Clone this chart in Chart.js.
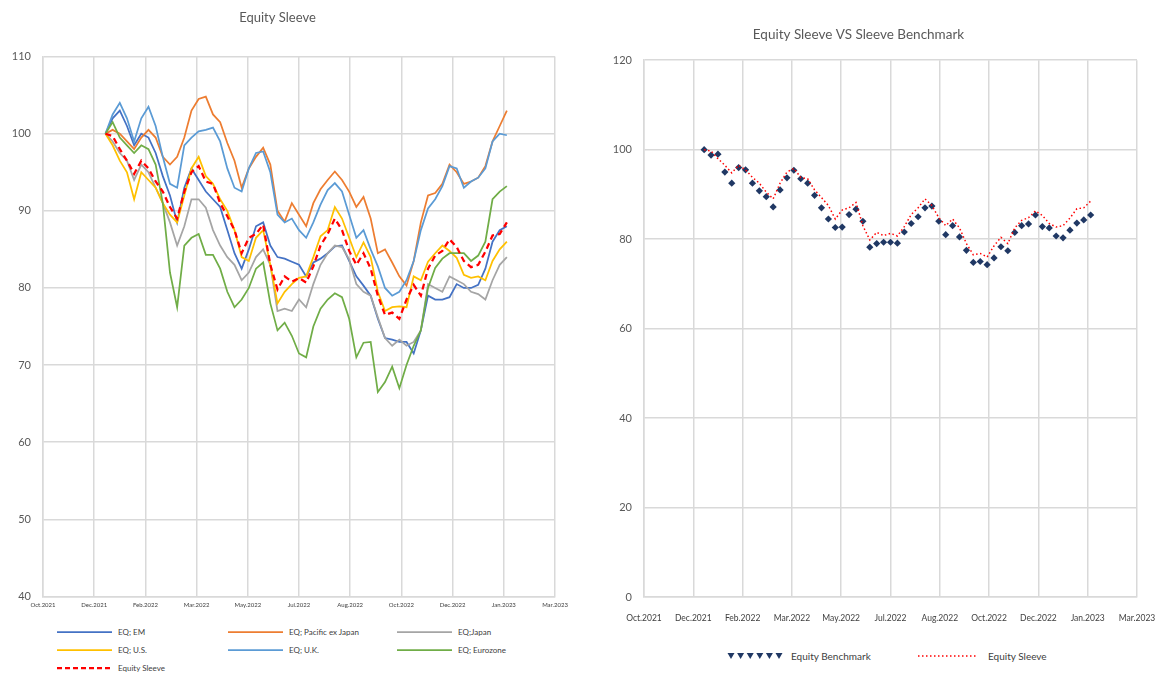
<!DOCTYPE html>
<html>
<head>
<meta charset="utf-8">
<title>Equity Sleeve</title>
<script src="https://cdn.jsdelivr.net/npm/chart.js@4.4.0/dist/chart.umd.min.js"></script>
<style>
  body { margin: 0; background: #fff; font-family: Lato, "Open Sans", sans-serif; }
  #page { position: relative; width: 1162px; height: 675px; overflow: hidden; }
  #leftBox { position: absolute; left: 0; top: 0; width: 580px; height: 615px; }
  #rightBox { position: absolute; left: 580px; top: 0; width: 582px; height: 630px; }
  .lg { position: absolute; display: flex; align-items: center; color: #404040; white-space: nowrap; }
  .lg svg { display: block; }
  .lg span { margin-left: 6px; }
</style>
</head>
<body>
<div id="page">
  <div id="leftBox"><canvas id="chartSleeve"></canvas></div>
  <div id="rightBox"><canvas id="chartBench"></canvas></div>
  <div id="legendLeft"></div>
  <div id="legendRight"></div>
</div>
<script>
// x axis: Excel style date axis, one gridline every 50 days from 31 Oct 2021
const axisStart = '2021-10-31';
const tickDays = 50;
const xTickLabels = ['Oct.2021', 'Dec.2021', 'Feb.2022', 'Mar.2022', 'May.2022', 'Jul.2022',
  'Aug.2022', 'Oct.2022', 'Dec.2022', 'Jan.2023', 'Mar.2023'];

// weekly observations
const dates = ['2021-12-31',
  '2022-01-07', '2022-01-14', '2022-01-21', '2022-01-28',
  '2022-02-04', '2022-02-11', '2022-02-18', '2022-02-25',
  '2022-03-04', '2022-03-11', '2022-03-18', '2022-03-25',
  '2022-04-01', '2022-04-08', '2022-04-15', '2022-04-22', '2022-04-29',
  '2022-05-06', '2022-05-13', '2022-05-20', '2022-05-27',
  '2022-06-03', '2022-06-10', '2022-06-17', '2022-06-24',
  '2022-07-01', '2022-07-08', '2022-07-15', '2022-07-22', '2022-07-29',
  '2022-08-05', '2022-08-12', '2022-08-19', '2022-08-26',
  '2022-09-02', '2022-09-09', '2022-09-16', '2022-09-23', '2022-09-30',
  '2022-10-07', '2022-10-14', '2022-10-21', '2022-10-28',
  '2022-11-04', '2022-11-11', '2022-11-18', '2022-11-25',
  '2022-12-02', '2022-12-09', '2022-12-16', '2022-12-23', '2022-12-30',
  '2023-01-06', '2023-01-13', '2023-01-20', '2023-01-27'];

const eqEM = [100, 102, 103, 101, 98.5, 100, 99.5, 97.5, 94.5, 92,
  88.5, 93, 95.5, 94, 92.5, 91.5, 90.5, 87.5, 84.5, 82.5,
  85, 88, 88.5, 85.5, 84, 83.8, 83.4, 83, 81.5, 83.3,
  83.8, 84.5, 85.4, 85.5, 83.5, 81.5, 80.3, 79, 76, 73.5,
  73.3, 73, 73, 71.5, 74.5, 79, 78.5, 78.5, 78.8, 80.5,
  80, 80, 80.4, 82.5, 86, 87.5, 88];
const eqPacific = [100, 100.5, 100, 99, 98, 99.5, 100.5, 99.5, 97, 96,
  97, 99.5, 103, 104.5, 104.8, 102.5, 101.5, 98.8, 96.5, 93,
  95.5, 97, 98.2, 96, 90, 88.6, 91, 89.5, 88, 91,
  92.8, 94, 95.1, 94, 92.5, 90.5, 91.8, 89, 84.5, 85,
  83.3, 81.5, 80.3, 83.5, 88.5, 92, 92.3, 93.5, 96, 95,
  93.5, 93.8, 94.3, 95.8, 99, 101, 103];
const eqJapan = [100, 99, 97.5, 96.5, 94, 96, 95, 93, 91, 88.5,
  85.5, 88, 91.5, 91.5, 90.4, 87.5, 85.5, 84, 83, 81,
  82, 84, 85, 83, 77, 77.3, 77, 78.5, 77.5, 80.5,
  83, 84.5, 85.5, 85.3, 83.7, 80.5, 79.5, 79, 76.2, 73.5,
  72.5, 73.3, 72.5, 73, 74.5, 80.5, 80, 79.5, 81.5, 81,
  80.5, 79.5, 79.2, 78.5, 81, 83, 84];
const eqUS = [100, 98.5, 96.5, 95, 91.5, 95, 94, 93, 91, 89.5,
  88.5, 92, 95.5, 97, 94.5, 93.5, 91.5, 90, 87.5, 84,
  83.5, 86.5, 87.5, 83, 78, 79.5, 80.5, 81.3, 81.5, 84,
  86.7, 87.5, 90.5, 89, 86.5, 84, 85.9, 84, 79.5, 77,
  77.5, 77.6, 77.5, 81.5, 81, 83.4, 84.5, 85.5, 84.8, 83.9,
  81.7, 81.3, 81.5, 81, 83.5, 85, 86];
const eqUK = [100, 102.5, 104, 102, 99, 102, 103.5, 101, 97, 93.5,
  93, 98.5, 99.5, 100.3, 100.5, 100.8, 99, 95.5, 93, 92.5,
  95.5, 97.5, 97.7, 95, 89.5, 88.5, 89, 87.5, 86.5, 88.5,
  90.8, 92.7, 93.6, 92.5, 89.5, 86.5, 87.5, 85, 82.8, 80,
  79, 79.5, 81, 83.5, 87.5, 90.3, 91.5, 93.2, 95.8, 95.5,
  93, 93.8, 94.3, 95.5, 99, 100, 99.8];
const eqEurozone = [100, 101.5, 99.5, 98.5, 97.5, 98.5, 98, 96, 91, 82,
  77.5, 85.5, 86.5, 87, 84.3, 84.3, 82.5, 79.5, 77.5, 78.5,
  80, 82.5, 83.3, 78, 74.5, 75.5, 73.8, 71.5, 71, 75,
  77.3, 78.5, 79.3, 78.8, 76, 71, 72.9, 73, 66.5, 67.8,
  69.8, 67, 70, 72.5, 74.5, 80, 82.6, 83.8, 84.5, 84.5,
  84.5, 83.5, 84.2, 86, 91.5, 92.5, 93.2];
const equitySleeve = [100, 99.7, 98, 96.5, 94.8, 96.5, 95.5, 93.8, 92.5, 90.5,
  89, 92.5, 95, 95.8, 93.8, 93.5, 91, 89.3, 87.5, 84.5,
  86.5, 87, 88.2, 83, 79.8, 81.5, 80.8, 81.3, 80.7, 82.8,
  85.5, 87, 89, 87.5, 84.8, 83, 84.5, 82.5, 79, 76.5,
  76.8, 76, 78.5, 80.4, 79, 82.5, 84.2, 84.8, 86.3, 85.3,
  83.5, 82.7, 83, 84.7, 86.8, 87, 88.5];
const equityBenchmark = [100, 98.8, 99, 95, 92.5, 96, 95.5, 92.5, 90.8, 89.5,
  87.2, 91, 93.7, 95.4, 93.5, 92.5, 89.8, 87, 84.5, 82.6,
  82.7, 85.5, 86.7, 84, 78.2, 79, 79.3, 79.3, 79.1, 81.6,
  83.5, 85, 87, 87.4, 84, 81, 83, 80.5, 77.5, 74.8,
  75, 74.3, 75.8, 78.3, 77.4, 81.5, 83, 83.4, 85.4, 82.8,
  82.5, 80.7, 80.3, 82, 83.6, 84.3, 85.4];

const leftSeries = [
  { name: 'EQ; EM', data: eqEM, color: '#4472c4' },
  { name: 'EQ; Pacific ex Japan', data: eqPacific, color: '#ed7d31' },
  { name: 'EQ;Japan', data: eqJapan, color: '#a5a5a5' },
  { name: 'EQ; U.S.', data: eqUS, color: '#ffc000' },
  { name: 'EQ; U.K.', data: eqUK, color: '#5b9bd5' },
  { name: 'EQ; Eurozone', data: eqEurozone, color: '#70ad47' },
  { name: 'Equity Sleeve', data: equitySleeve, color: '#ff0000', dash: [6, 4] }
];

const fontFamily = 'Lato, "Open Sans", sans-serif';
const gridColor = '#d9d9d9';

function dayOf(d) {
  return Math.round((Date.parse(d) - Date.parse(axisStart)) / 86400000);
}
const xs = dates.map(dayOf);

function toPoints(vals) {
  return vals.map(function (v, i) { return { x: xs[i], y: v }; });
}

function xAxis(fontSize, pad, height) {
  return {
    type: 'linear',
    min: 0,
    max: tickDays * (xTickLabels.length - 1),
    ticks: {
      stepSize: tickDays,
      autoSkip: false,
      maxRotation: 0,
      padding: pad,
      color: '#404040',
      font: { family: fontFamily, size: fontSize },
      callback: function (v) { return xTickLabels[Math.round(v / tickDays)]; }
    },
    grid: { color: gridColor, lineWidth: 1.5, drawTicks: false },
    border: { color: gridColor, width: 1.5 },
    // fixed height, and the end labels may hang into the canvas margin
    afterFit: function (s) { s.height = height; s.paddingLeft = 0; s.paddingRight = 0; }
  };
}

function yAxis(min, max, step, width) {
  return {
    min: min,
    max: max,
    ticks: {
      stepSize: step,
      padding: 12,
      color: '#595959',
      font: { family: fontFamily, size: 11 }
    },
    grid: { color: gridColor, lineWidth: 1.5, drawTicks: false },
    border: { color: gridColor, width: 1.5 },
    afterFit: function (s) { s.width = width; }
  };
}

const leftChart = new Chart(document.getElementById('chartSleeve'), {
  type: 'line',
  data: {
    datasets: leftSeries.map(function (s, i) {
      return {
        label: s.name,
        data: toPoints(s.data),
        borderColor: s.color,
        backgroundColor: s.color,
        borderWidth: s.dash ? 2.25 : 1.75,
        borderDash: s.dash || [],
        pointRadius: 0,
        order: s.dash ? 0 : leftSeries.length - i
      };
    })
  },
  options: {
    animation: false,
    responsive: true,
    maintainAspectRatio: false,
    layout: { padding: { left: 0, right: 25, top: 0, bottom: 0 } },
    plugins: {
      legend: { display: false },
      tooltip: { enabled: false },
      title: {
        display: true,
        text: 'Equity Sleeve',
        color: '#595959',
        font: { family: fontFamily, size: 13, weight: 'normal' },
        padding: { top: 10, bottom: 31 }
      }
    },
    scales: {
      x: xAxis(6, 5, 18),
      y: yAxis(40, 110, 10, 43)
    }
  }
});

const rightChart = new Chart(document.getElementById('chartBench'), {
  type: 'line',
  data: {
    datasets: [{
      label: 'Equity Benchmark',
      data: toPoints(equityBenchmark),
      showLine: false,
      pointStyle: 'rectRot',
      pointRadius: 3.6,
      pointBorderWidth: 0,
      pointBackgroundColor: '#203864',
      borderColor: '#203864',
      order: 1
    }, {
      label: 'Equity Sleeve',
      data: toPoints(equitySleeve),
      borderColor: '#ff0000',
      borderWidth: 1.5,
      borderDash: [1.5, 2.5],
      pointRadius: 0,
      order: 0
    }]
  },
  options: {
    animation: false,
    responsive: true,
    maintainAspectRatio: false,
    layout: { padding: { left: 0, right: 25, top: 0, bottom: 0 } },
    plugins: {
      legend: { display: false },
      tooltip: { enabled: false },
      title: {
        display: true,
        text: 'Equity Sleeve VS Sleeve Benchmark',
        color: '#595959',
        font: { family: fontFamily, size: 13.5, weight: 'normal' },
        padding: { top: 27, bottom: 17 }
      }
    },
    scales: {
      x: xAxis(8.5, 16, 33),
      y: yAxis(0, 120, 20, 64)
    }
  }
});

// html legends, built from the datasets
function lineSample(color, dash, width, w) {
  return '<svg width="' + w + '" height="8"><line x1="0" y1="4" x2="' + w + '" y2="4" stroke="' + color +
    '" stroke-width="' + width + '"' + (dash ? ' stroke-dasharray="' + dash.join(' ') + '"' : '') + '/></svg>';
}

function markerSample(color, n, w) {
  var s = '<svg width="' + w + '" height="8">';
  for (var k = 0; k < n; k++) {
    var cx = 4 + k * (w - 8) / (n - 1);
    s += '<polygon points="' + (cx - 3.5) + ',1 ' + (cx + 3.5) + ',1 ' + cx + ',7" fill="' + color + '"/>';
  }
  return s + '</svg>';
}

var colLeft = [57, 228, 397];
var rowTop = [627, 645, 663];
var htmlLeft = '';
leftSeries.forEach(function (s, i) {
  var left = colLeft[i % 3], top = rowTop[Math.floor(i / 3)];
  htmlLeft += '<div class="lg" style="left:' + left + 'px;top:' + top + 'px;font-size:8px;">' +
    lineSample(s.color, s.dash ? [5, 3] : null, s.dash ? 2.25 : 1.75, 55) + '<span>' + s.name + '</span></div>';
});
document.getElementById('legendLeft').innerHTML = htmlLeft;

var rds = rightChart.data.datasets;
document.getElementById('legendRight').innerHTML =
  '<div class="lg" style="left:727px;top:650px;font-size:10px;">' + markerSample(rds[0].pointBackgroundColor, 6, 56) +
  '<span style="margin-left:8px">' + rds[0].label + '</span></div>' +
  '<div class="lg" style="left:918px;top:650px;font-size:10px;">' + lineSample('#ff0000', [1.5, 2.5], 1.5, 60) +
  '<span style="margin-left:10px">' + rds[1].label + '</span></div>';
</script>
</body>
</html>
